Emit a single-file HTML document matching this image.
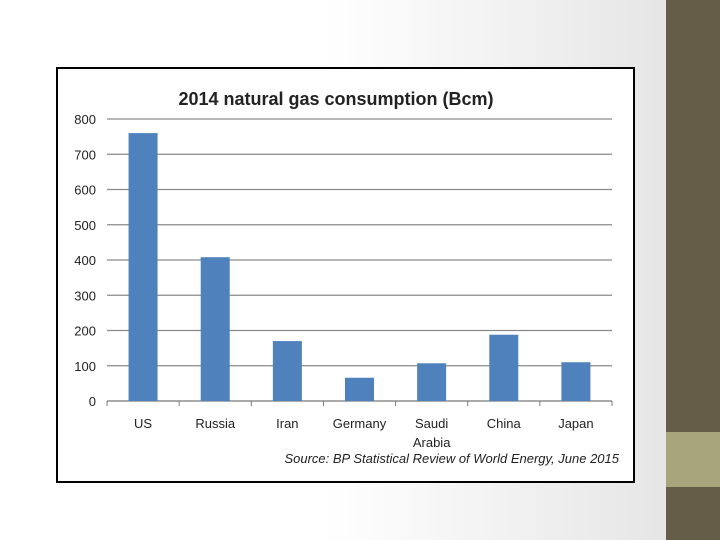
<!DOCTYPE html>
<html><head><meta charset="utf-8"><style>
body{margin:0;width:720px;height:540px;overflow:hidden;background:linear-gradient(90deg,#fff 0%,#fff 45%,#e6e6e6 92%);font-family:"Liberation Sans",sans-serif;position:relative}
</style></head><body>
<div style="position:absolute;left:666px;top:0;width:54px;height:540px;background:#655d47"></div>
<div style="position:absolute;left:666px;top:432px;width:54px;height:55px;background:#a8a47c"></div>
<svg width="720" height="540" style="position:absolute;left:0;top:0">
<rect x="57" y="68" width="577" height="414" fill="#fff" stroke="#000" stroke-width="2"/>
<text x="336" y="105" text-anchor="middle" font-size="18" font-weight="bold" fill="#222">2014 natural gas consumption (Bcm)</text>
<g id="grid"></g><g id="bars"></g><g id="labels"></g>
<text x="619" y="463" text-anchor="end" font-size="13" font-style="italic" fill="#222">Source: BP Statistical Review of World Energy, June 2015</text>
</svg>
<script>
const categories=["US","Russia","Iran","Germany","Saudi","China","Japan"];
const values=[760,408,170,66,107,188,110];
const ticks=[0,100,200,300,400,500,600,700,800];
const ns="http://www.w3.org/2000/svg";
const x0=107,x1=612,y0=401,yTop=119,max=800;
const y=v=>y0-(y0-yTop)*v/max;
const bw=(x1-x0)/categories.length;
function mk(t,a,p){const e=document.createElementNS(ns,t);for(const k in a)e.setAttribute(k,a[k]);p.appendChild(e);return e;}
const g=document.getElementById('grid'),b=document.getElementById('bars'),l=document.getElementById('labels');
ticks.forEach(v=>{
 const ln=mk('line',{x1:x0,x2:x1,y1:y(v),y2:y(v),stroke:v?'#8a8a8a':'#777','stroke-width':1.3},g);
 
 
 const t=mk('text',{x:96,y:y(v)+5,'text-anchor':'end','font-size':13,fill:'#222'},l);
 t.textContent=v;
 
 
});
for(let i=0;i<=categories.length;i++){
 const tk=mk('line',{x1:x0+i*bw,x2:x0+i*bw,y1:y0,y2:y0+5,stroke:'#777'},g);
 
 
}
categories.forEach((c,i)=>{
 const cx=x0+bw*(i+0.5);
 const r=mk('rect',{x:cx-14.5,y:y(values[i]),width:29,height:y0-y(values[i]),fill:'#4f81bd'},b);
 
 
 const t=mk('text',{x:cx,y:428,'text-anchor':'middle','font-size':13,fill:'#222'},l);
 t.textContent=c;
 
 
 if(c==="Saudi"){const t2=mk('text',{x:cx,y:447,'text-anchor':'middle','font-size':13,fill:'#222'},l);t2.textContent="Arabia";
 
 }
});
</script>
</body></html>
